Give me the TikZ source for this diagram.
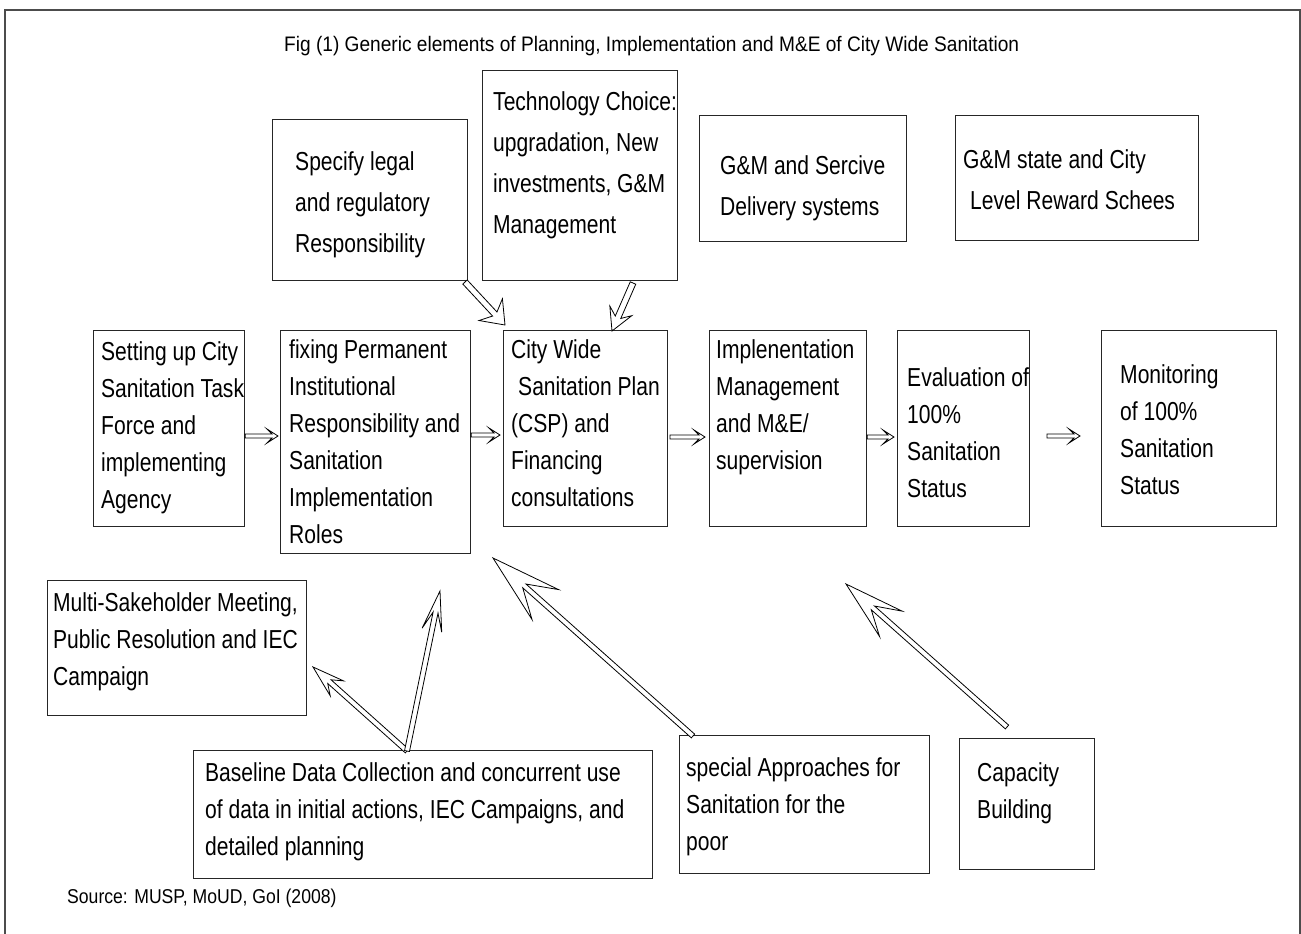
\documentclass[tikz,border=0pt]{standalone}
\usepackage{fontspec}
\setmainfont{Liberation Sans}[FakeStretch=0.81]
\newfontfamily\titlefont{Liberation Sans}[FakeStretch=0.91]
\newfontfamily\srcfont{Liberation Sans}[FakeStretch=0.88]
\usetikzlibrary{calc}
\newcommand\hollowarrow[7]{% #1 style, #2 start, #3 tip, #4 shaft half width, #5 notch, #6 barb back, #7 barb half width
  \path ($(#3)!#5!(#2)$) coordinate (hn) ($(#3)!#6!(#2)$) coordinate (hb);
  \draw[#1] ($(#2)!#4!90:(#3)$) -- ($(hn)!#4!90:(#3)$) -- ($(hb)!#7!90:(#3)$) -- (#3)
    -- ($(hb)!#7!-90:(#3)$) -- ($(hn)!#4!-90:(#3)$) -- ($(#2)!#4!-90:(#3)$) -- cycle;}
\tikzset{
  box/.style={draw=black!85, line width=1.1pt, inner sep=0pt, anchor=north west},
  txt/.style={anchor=north west, align=left, inner sep=0pt, font=\fontsize{26}{37}\selectfont},
  txttop/.style={txt, font=\fontsize{26}{41}\selectfont},
  arrowline/.style={draw=black, line width=0.8pt, fill=white, line join=miter},
  frame/.style={draw=black!70, line width=1.4pt}
}
\begin{document}
\begin{tikzpicture}[x=1pt, y=-1pt]
\useasboundingbox (0,0) rectangle (1301,934);
\draw[frame] (5,934) -- (5,10) -- (1300,10) -- (1300,934);

\node[anchor=base west, inner sep=0pt, font=\fontsize{21}{24}\titlefont] (title) at (284,52)
  {Fig (1) Generic elements of Planning, Implementation and M\&E of City Wide Sanitation};
\node[anchor=base west, inner sep=0pt, font=\fontsize{20}{24}\srcfont] (source) at (67,903)
  {Source: MUSP, MoUD, GoI (2008)};

% top boxes
\node[box, minimum width=195pt, minimum height=161pt] (spec) at (272,119) {};
\node[box, minimum width=195pt, minimum height=210pt] (tech) at (482,70) {};
\node[box, minimum width=207pt, minimum height=126pt] (gms) at (699,115) {};
\node[box, minimum width=243pt, minimum height=125pt] (gmr) at (955,115) {};
\node[txttop] (spec-t) at (295,151) {Specify legal\\and regulatory\\Responsibility};
\node[txttop] (tech-t) at (493,91) {Technology Choice:\\upgradation, New\\investments, G\&M\\Management};
\node[txttop] (gms-t) at (720,155) {G\&M and Sercive\\Delivery systems};
\node[txttop] (gmr-t) at (963,149) {G\&M state and City\\\hspace*{7pt}Level Reward Schees};

% main row
\node[box, minimum width=151pt, minimum height=196pt] (setup) at (93,330) {};
\node[box, minimum width=190pt, minimum height=223pt] (fix) at (280,330) {};
\node[box, minimum width=164pt, minimum height=196pt] (csp) at (503,330) {};
\node[box, minimum width=157pt, minimum height=196pt] (impl) at (709,330) {};
\node[box, minimum width=132pt, minimum height=196pt] (eval) at (897,330) {};
\node[box, minimum width=175pt, minimum height=196pt] (mon) at (1101,330) {};
\node[txt] (setup-t) at (101,341) {Setting up City\\Sanitation Task\\Force and\\implementing\\Agency};
\node[txt] (fix-t) at (289,339) {fixing Permanent\\Institutional\\Responsibility and\\Sanitation\\Implementation\\Roles};
\node[txt] (csp-t) at (511,339) {City Wide\\\hspace*{7pt}Sanitation Plan\\(CSP) and\\Financing\\consultations};
\node[txt] (impl-t) at (716,339) {Implenentation\\Management\\and M\&E/\\supervision};
\node[txt] (eval-t) at (907,367) {Evaluation of\\100\%\\Sanitation\\Status};
\node[txt] (mon-t) at (1120,364) {Monitoring\\of 100\%\\Sanitation\\Status};

% bottom boxes
\node[box, minimum width=259pt, minimum height=135pt] (multi) at (47,580) {};
\node[box, minimum width=459pt, minimum height=128pt] (base) at (193,750) {};
\node[box, minimum width=250pt, minimum height=138pt] (poor) at (679,735) {};
\node[box, minimum width=135pt, minimum height=131pt] (cap) at (959,738) {};
\node[txt] (multi-t) at (53,592) {Multi-Sakeholder Meeting,\\Public Resolution and IEC\\Campaign};
\node[txt] (base-t) at (205,762) {Baseline Data Collection and concurrent use\\of data in initial actions, IEC Campaigns, and\\detailed planning};
\node[txt] (poor-t) at (686,757) {special Approaches for\\Sanitation for the\\poor};
\node[txt] (cap-t) at (977,762) {Capacity\\Building};

% arrow end points
\coordinate (h1s) at (setup.east |- 0,436);  \coordinate (h1e) at (278,436);
\coordinate (h2s) at (fix.east |- 0,435);    \coordinate (h2e) at (500,435);
\coordinate (h3s) at (670,437);              \coordinate (h3e) at (705,437);
\coordinate (h4s) at (impl.east |- 0,437);   \coordinate (h4e) at (894,437);
\coordinate (h5s) at (1047,436);             \coordinate (h5e) at (1080,436);
\coordinate (t1s) at (465,282);  \coordinate (t1e) at (505,325);
\coordinate (t2s) at (633,283);  \coordinate (t2e) at (612,331);
\coordinate (b0s) at (407,751);
\coordinate (b1e) at (313,667);
\coordinate (b2e) at (440,591);
\coordinate (b3s) at (693,736);  \coordinate (b3e) at (493,558);
\coordinate (b4s) at (1007,727); \coordinate (b4e) at (846,584);

\hollowarrow{arrowline}{h1s}{h1e}{2pt}{6pt}{11pt}{7pt}
\hollowarrow{arrowline}{h2s}{h2e}{2pt}{6pt}{11pt}{7pt}
\hollowarrow{arrowline}{h3s}{h3e}{2pt}{6pt}{11pt}{7pt}
\hollowarrow{arrowline}{h4s}{h4e}{2pt}{6pt}{11pt}{7pt}
\hollowarrow{arrowline}{h5s}{h5e}{2pt}{6pt}{11pt}{7pt}
\hollowarrow{arrowline}{t1s}{t1e}{3pt}{15pt}{21pt}{16pt}
\hollowarrow{arrowline}{t2s}{t2e}{3pt}{15pt}{22pt}{12pt}
\hollowarrow{arrowline}{b0s}{b1e}{2.5pt}{22pt}{32pt}{10pt}
\hollowarrow{arrowline}{b0s}{b2e}{2.5pt}{22pt}{40pt}{10pt}
\hollowarrow{arrowline}{b3s}{b3e}{2.5pt}{42pt}{70pt}{20pt}
\hollowarrow{arrowline}{b4s}{b4e}{2.5pt}{36pt}{60pt}{17pt}
\end{tikzpicture}
\end{document}
